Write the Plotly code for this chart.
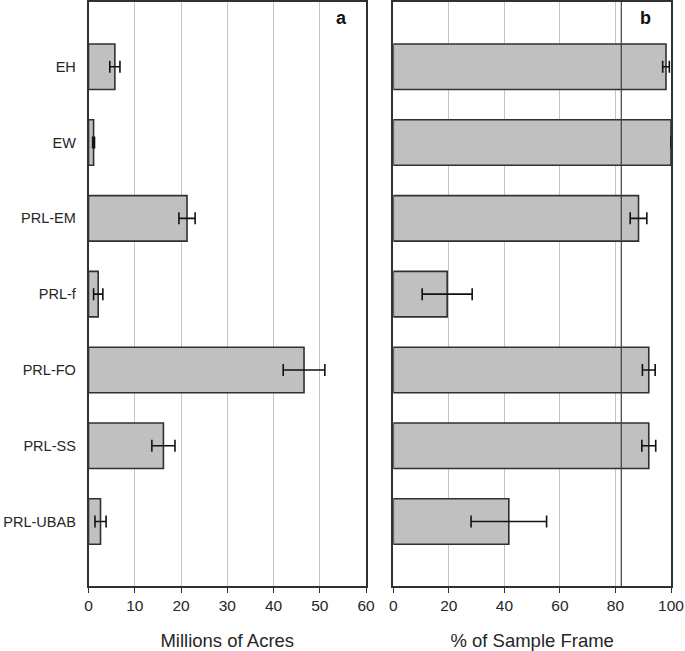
import plotly.graph_objects as go

categories = ["EH", "EW", "PRL-EM", "PRL-f", "PRL-FO", "PRL-SS", "PRL-UBAB"]
acres = [5.7, 1.1, 21.3, 2.1, 46.6, 16.2, 2.6]
acres_err = [1.1, 0.2, 1.75, 1.0, 4.5, 2.5, 1.2]
pct = [98.2, 100.0, 88.3, 19.4, 92.0, 92.0, 41.6]
pct_err = [1.2, 0.0, 3.0, 9.0, 2.3, 2.5, 13.6]
threshold = 82.1
acres_ticks = [0, 10, 20, 30, 40, 50, 60]
pct_ticks = [0, 20, 40, 60, 80, 100]

W, H = 685, 651
FONT = "Liberation Sans, Arial, sans-serif"
LINE = "#303030"
GRID = "#c4c4c4"

fig = go.Figure()
bar_style = dict(orientation="h", width=0.6,
                 marker=dict(color="#c0c0c0", line=dict(color=LINE, width=1.6)),
                 showlegend=False)
fig.add_trace(go.Bar(x=acres, y=categories, xaxis="x", yaxis="y",
                     error_x=dict(type="data", array=acres_err, color="#111111",
                                  thickness=1.6, width=6),
                     **bar_style))
fig.add_trace(go.Bar(x=pct, y=categories, xaxis="x2", yaxis="y2",
                     error_x=dict(type="data", array=pct_err, color="#111111",
                                  thickness=1.6, width=6),
                     **bar_style))

ydom = [65 / H, 649 / H]
xa_dom = [88.5 / W, 366 / W]
xb_dom = [393.3 / W, 671 / W]
yrange = [6.85, -0.854]

common_x = dict(showline=True, linecolor=LINE, linewidth=1.5, mirror=True,
                ticks="outside", ticklen=5, tickwidth=1.3, tickcolor=LINE,
                showgrid=True, gridcolor=GRID, gridwidth=1.3, zeroline=False,
                tickfont=dict(family=FONT, size=15.5, color="#262626"),
                title_font=dict(family=FONT, size=18.5, color="#262626"),
                automargin=False)
common_y = dict(type="category", range=yrange, showline=True, linecolor=LINE,
                linewidth=1.5, mirror=True, ticks="", showgrid=False,
                automargin=False)

fig.update_layout(
    width=W, height=H,
    margin=dict(l=0, r=0, t=0, b=0),
    paper_bgcolor="white", plot_bgcolor="white",
    barmode="overlay",
    xaxis=dict(domain=xa_dom, anchor="y", range=[0, 60], tickvals=acres_ticks,
               title=dict(text="Millions of Acres", standoff=22), **common_x),
    xaxis2=dict(domain=xb_dom, anchor="y2", range=[0, 100], tickvals=pct_ticks,
                title=dict(text="% of Sample Frame", standoff=22), **common_x),
    yaxis=dict(domain=ydom, anchor="x", showticklabels=True, ticklabelstandoff=8,
               tickfont=dict(family=FONT, size=14.5, color="#262626"), **common_y),
    yaxis2=dict(domain=ydom, anchor="x2", showticklabels=False, **common_y),
    shapes=[dict(type="line", xref="x2", yref="y2 domain", x0=threshold, x1=threshold,
                 y0=0, y1=1, line=dict(color="#404040", width=1.2), layer="above")],
    annotations=[
        dict(text="<b>a</b>", xref="x domain", yref="y domain", x=0.91, y=0.9726,
             xanchor="center", yanchor="middle",
             showarrow=False, font=dict(family=FONT, size=18, color="#111111")),
        dict(text="<b>b</b>", xref="x2 domain", yref="y2 domain", x=0.909, y=0.9726,
             xanchor="center", yanchor="middle",
             showarrow=False, font=dict(family=FONT, size=18, color="#111111")),
    ],
)

fig.write_html("out.html", config={"displayModeBar": False},
               post_script="document.body.style.margin='0';")
